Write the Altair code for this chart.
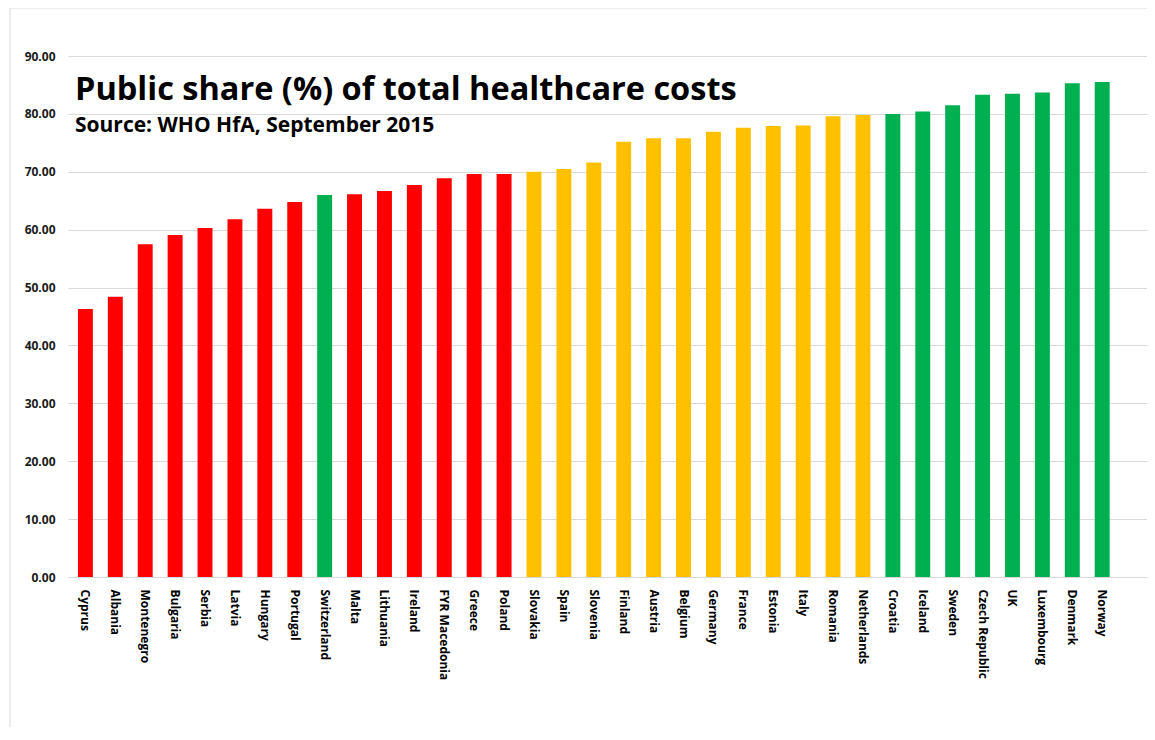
import altair as alt
import pandas as pd

countries = ["Cyprus", "Albania", "Montenegro", "Bulgaria", "Serbia", "Latvia", "Hungary",
             "Portugal", "Switzerland", "Malta", "Lithuania", "Ireland", "FYR Macedonia",
             "Greece", "Poland", "Slovakia", "Spain", "Slovenia", "Finland", "Austria",
             "Belgium", "Germany", "France", "Estonia", "Italy", "Romania", "Netherlands",
             "Croatia", "Iceland", "Sweden", "Czech Republic", "UK", "Luxembourg",
             "Denmark", "Norway"]
values = [46.3, 48.4, 57.5, 59.1, 60.3, 61.8, 63.6, 64.8, 66.0, 66.1, 66.7, 67.7, 68.9,
          69.6, 69.6, 70.0, 70.5, 71.6, 75.2, 75.8, 75.8, 76.9, 77.6, 77.9, 78.0, 79.6,
          79.8, 80.0, 80.4, 81.5, 83.3, 83.5, 83.7, 85.3, 85.5]
groups = ["red"] * 8 + ["green"] + ["red"] * 6 + ["amber"] * 12 + ["green"] * 8

df = pd.DataFrame({"country": countries, "value": values, "group": groups})
one = pd.DataFrame({"k": [0]})

FONT = "Open Sans"

bars = alt.Chart(df).mark_bar().encode(
    x=alt.X("country:N", sort=countries, title=None,
            scale=alt.Scale(paddingInner=0.5, paddingOuter=0.79, align=0.21),
            axis=alt.Axis(labelAngle=90, labelFont=FONT, labelFontWeight="bold",
                          labelFontSize=12, labelColor="#000000", ticks=False,
                          domainColor="#d9d9d9", labelPadding=12, labelAlign="left",
                          labelBaseline="middle", grid=False)),
    y=alt.Y("value:Q", title=None,
            scale=alt.Scale(domain=[0, 90], nice=False),
            axis=alt.Axis(values=[0, 10, 20, 30, 40, 50, 60, 70, 80, 90], format=".2f",
                          labelFont=FONT, labelFontWeight="bold", labelFontSize=12,
                          labelColor="#1a1a1a", ticks=False, domain=False,
                          gridColor="#d9d9d9", labelPadding=13)),
    color=alt.Color("group:N", legend=None,
                    scale=alt.Scale(domain=["red", "amber", "green"],
                                    range=["#ff0000", "#ffc000", "#00b050"])),
)

frame_left = alt.Chart(one).mark_rule(color="#d9d9d9", strokeWidth=1).encode(
    x=alt.value(-58), y=alt.value(-48), y2=alt.value(680)
)
frame_top = alt.Chart(one).mark_rule(color="#d9d9d9", strokeWidth=1).encode(
    x=alt.value(-58), x2=alt.value(1090), y=alt.value(-48)
)

title = alt.Chart(one).mark_text(text="Public share (%) of total healthcare costs",
                                  font=FONT, fontWeight="bold", fontSize=32.5, align="left",
                                  baseline="alphabetic", color="#000000").encode(
    x=alt.value(7), y=alt.value(44)
)
subtitle = alt.Chart(one).mark_text(text="Source: WHO HfA, September 2015",
                                     font=FONT, fontWeight="bold", fontSize=21, align="left",
                                     baseline="alphabetic", color="#000000").encode(
    x=alt.value(7), y=alt.value(76)
)

chart = alt.layer(frame_left, frame_top, bars, title, subtitle).properties(
    width=1079, height=521,
    autosize=alt.AutoSizeParams(type="none"),
    padding={"left": 60, "top": 48, "right": 0, "bottom": 150},
    view=alt.ViewBackground(strokeWidth=0, strokeOpacity=0),
).configure(background="white", view=alt.ViewConfig(strokeWidth=0, strokeOpacity=0))

chart.save("out.html", embed_options={"renderer": "svg", "actions": False})
